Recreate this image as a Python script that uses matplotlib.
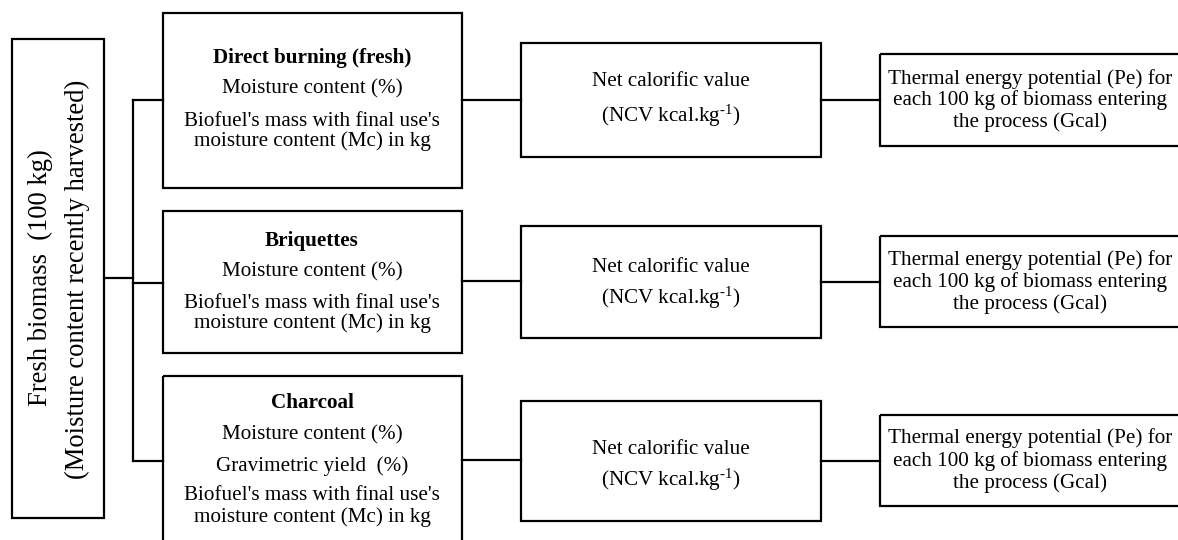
import matplotlib
matplotlib.use('Agg')
import matplotlib.pyplot as plt
from matplotlib.patches import Rectangle

plt.rcParams['font.family'] = 'Liberation Serif'
plt.rcParams['mathtext.fontset'] = 'custom'
plt.rcParams['mathtext.rm'] = 'Liberation Serif'
plt.rcParams['mathtext.it'] = 'Liberation Serif:italic'

# diagram content
source_lines = ['Fresh biomass  (100 kg)', '(Moisture content recently harvested)']
route_titles = ['Direct burning (fresh)', 'Briquettes', 'Charcoal']
route_items = [
    ['Moisture content (%)', "Biofuel's mass with final use's", 'moisture content (Mc) in kg'],
    ['Moisture content (%)', "Biofuel's mass with final use's", 'moisture content (Mc) in kg'],
    ['Moisture content (%)', 'Gravimetric yield  (%)', "Biofuel's mass with final use's",
     'moisture content (Mc) in kg'],
]
ncv_lines = ['Net calorific value', r'(NCV kcal.kg$^{\text{-1}}$)']
pe_lines = ['Thermal energy potential (Pe) for', 'each 100 kg of biomass entering',
            'the process (Gcal)']

fig = plt.figure(figsize=(11.78, 5.40), dpi=100)
ax = fig.add_axes([0, 0, 1, 1])
ax.set_xlim(0, 1178)
ax.set_ylim(540, 0)
ax.axis('off')

lw = 1.6
fs = 15.2

def box(x0, y0, x1, y1):
    ax.add_patch(Rectangle((x0, y0), x1 - x0, y1 - y0, fill=False, ec='black', lw=lw,
                           clip_on=True))

def line(xs, ys):
    ax.plot(xs, ys, color='black', lw=lw, solid_capstyle='projecting')

# source box
box(12, 39, 104, 518)
ax.text(40, 278, source_lines[0], rotation=90, ha='center', va='center', fontsize=19.2)
ax.text(77, 279, source_lines[1], rotation=90, ha='center', va='center', fontsize=19.2)

# connectors from source
line([104, 133], [278, 278])
line([133, 133], [100, 461])

col2 = [(13, 188), (211, 353), (376, 560)]
col3 = [(43, 157), (226, 338), (401, 521)]
col4 = [(54, 146), (236, 327), (415, 506)]
branch_y = [100, 283, 461]
link23 = [100, 281, 460]
link34 = [100, 282, 461]

title_y = [58, 241, 403]
item_y = [[89, 121, 141], [272, 303, 323], [435, 466, 495, 517]]
ncv_y = [[82, 116], [268, 298], [449, 480]]
pe_y = [[79, 100, 122], [260, 282, 304], [438, 461, 483]]

for i in range(3):
    box(163, col2[i][0], 462, col2[i][1])
    box(521, col3[i][0], 821, col3[i][1])
    box(880, col4[i][0], 1200, col4[i][1])
    line([133, 163], [branch_y[i], branch_y[i]])
    line([462, 521], [link23[i], link23[i]])
    line([821, 880], [link34[i], link34[i]])

    ax.text(312, title_y[i], route_titles[i], ha='center', va='center',
            fontsize=fs, fontweight='bold')
    for txt, y in zip(route_items[i], item_y[i]):
        ax.text(312, y, txt, ha='center', va='center', fontsize=fs)
    for txt, y in zip(ncv_lines, ncv_y[i]):
        ax.text(671, y, txt, ha='center', va='center', fontsize=fs)
    for txt, y in zip(pe_lines, pe_y[i]):
        ax.text(1030, y, txt, ha='center', va='center', fontsize=fs)

fig.savefig('out.png', dpi=100, facecolor='white')
